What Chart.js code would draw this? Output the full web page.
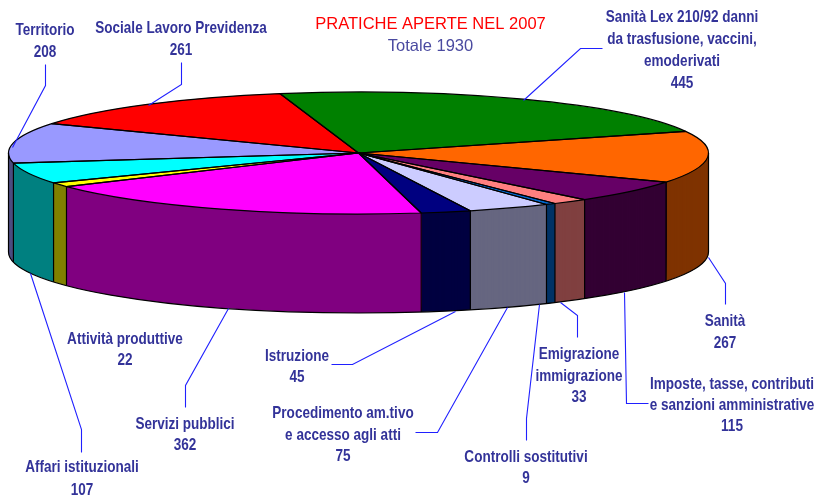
<!DOCTYPE html>
<html><head><meta charset="utf-8">
<style>html,body{margin:0;padding:0;background:#fff}canvas{display:block}</style>
<script src="https://cdn.jsdelivr.net/npm/chart.js@4"></script>
</head><body><canvas id="c" width="816" height="500"></canvas>
<script>
const categories = ["Sanità Lex 210/92 danni da trasfusione, vaccini, emoderivati","Sanità","Imposte, tasse, contributi e sanzioni amministrative","Emigrazione immigrazione","Controlli sostitutivi","Procedimento am.tivo e accesso agli atti","Istruzione","Servizi pubblici","Attività produttive","Affari istituzionali","Territorio","Sociale Lavoro Previdenza"];
const values = [445,267,115,33,9,75,45,362,22,107,208,261];
const faceColors = ["#008000","#FF6600","#660066","#FF8080","#0066CC","#CCCCFF","#000080","#FF00FF","#FFFF00","#00FFFF","#9999FF","#FF0000"];
const wallColors = ["#004000","#7F3300","#330033","#804040","#003366","#666680","#000040","#800080","#808000","#008080","#4D4D80","#800000"];
const titleText = "PRATICHE APERTE NEL 2007";
const subtitleText = "Totale 1930";

// label layout, separate from the data: wrapped lines, centre x, middle y of each line, leader polyline
const labelLayout = [
 {lines:["Sanità Lex 210/92 danni","da trasfusione, vaccini,","emoderivati"],x:682,y:[16,38,60,82],leader:[[602,48],[580,48],[523,100]]},
 {lines:["Sanità"],x:725,y:[320,342],leader:[[725,304],[725,283],[708,257]]},
 {lines:["Imposte, tasse, contributi","e sanzioni amministrative"],x:732,y:[383,404,425],leader:[[648,403],[626,403],[624,292]]},
 {lines:["Emigrazione","immigrazione"],x:579,y:[353,375,396],leader:[[577,337],[577,315],[560,302]]},
 {lines:["Controlli sostitutivi"],x:526,y:[456,477],leader:[[526,440],[526,418],[539,304]]},
 {lines:["Procedimento am.tivo","e accesso agli atti"],x:343,y:[412,434,455],leader:[[415,432],[437,432],[507,307]]},
 {lines:["Istruzione"],x:297,y:[355,376],leader:[[331,364],[352,364],[455,311]]},
 {lines:["Servizi pubblici"],x:185,y:[423,444],leader:[[185,407],[185,385],[228,308]]},
 {lines:["Attività produttive"],x:125,y:[338,359],leader:null},
 {lines:["Affari istituzionali"],x:82,y:[466,489],leader:[[81,452],[81,429],[30,273]]},
 {lines:["Territorio"],x:45,y:[29,51],leader:[[45,64],[45,85],[12,147]]},
 {lines:["Sociale Lavoro Previdenza"],x:181,y:[27,49],leader:[[181,62],[181,84],[148,105]]}
];
const face = {cx:358.5, cy:153, rx:350, ry:61, depth:99};
const INK = "#333399";
const labelFont = 'bold 16.5px "Liberation Sans",Arial,sans-serif';
const labelSqueeze = 0.82;

const pie3d = {
  id:"pie3d",
  beforeDatasetsDraw(chart){
    const ctx = chart.ctx, arcs = chart.getDatasetMeta(0).data;
    const a0 = arcs[0], sx = face.rx/a0.outerRadius, sy = face.ry/a0.outerRadius;
    const place = (dy)=>{ ctx.translate(face.cx, face.cy+dy); ctx.scale(sx,sy); ctx.translate(-a0.x,-a0.y); };
    const TAU = Math.PI*2;

    // extruded wall: each library arc, opened to a whole disc and repeated downwards in
    // its dark colour, held to the horizontal span of the front rim that it owns
    arcs.forEach((arc,i)=>{
      let s = arc.startAngle, e = arc.endAngle;
      while(s<0){s+=TAU;e+=TAU;}
      while(s>=TAU){s-=TAU;e-=TAU;}
      let a=null,b=null;
      if(s<Math.PI){a=s;b=Math.min(e,Math.PI);}
      if(e>TAU){const bb=Math.min(e-TAU,Math.PI); a=0; b=(b===null)?bb:Math.max(b,bb);}
      if(a===null) return;
      let xHi = face.cx+face.rx*Math.cos(a), xLo = face.cx+face.rx*Math.cos(b);
      if(a===0) xHi+=2;
      if(b===Math.PI) xLo-=2;
      const o = arc.options, sa=arc.startAngle, ea=arc.endAngle, ci=arc.circumference;
      arc.options = Object.assign({},o,{backgroundColor:wallColors[i],borderWidth:0});
      arc.startAngle = -Math.PI/2; arc.circumference = TAU-0.001; arc.endAngle = arc.startAngle+arc.circumference;
      ctx.save();
      ctx.beginPath(); ctx.rect(xLo,0,xHi-xLo,500); ctx.clip();
      for(let d=face.depth; d>0; d--){
        ctx.save(); place(d); arc.draw(ctx); ctx.restore();
      }
      ctx.restore();
      arc.options = o; arc.startAngle=sa; arc.endAngle=ea; arc.circumference=ci;
    });
    // top face
    ctx.save(); place(0);
    arcs.forEach(arc=>{ arc.draw(ctx); });
    ctx.restore();

    // outlines in screen space so the line keeps an even weight
    ctx.save();
    ctx.strokeStyle="#000"; ctx.lineWidth=1.2; ctx.lineJoin="round";
    arcs.forEach(arc=>{
      const s = arc.startAngle, c=Math.cos(s), n=Math.sin(s);
      if(n>0){
        const x=face.cx+face.rx*c, y=face.cy+face.ry*n;
        ctx.beginPath(); ctx.moveTo(x,y); ctx.lineTo(x,y+face.depth); ctx.stroke();
      }
    });
    ctx.beginPath();
    ctx.moveTo(face.cx-face.rx,face.cy); ctx.lineTo(face.cx-face.rx,face.cy+face.depth);
    ctx.moveTo(face.cx+face.rx,face.cy); ctx.lineTo(face.cx+face.rx,face.cy+face.depth);
    ctx.stroke();
    ctx.beginPath(); ctx.ellipse(face.cx,face.cy+face.depth,face.rx,face.ry,0,0,Math.PI); ctx.stroke();
    arcs.forEach(arc=>{
      ctx.beginPath(); ctx.moveTo(face.cx,face.cy);
      ctx.ellipse(face.cx,face.cy,face.rx,face.ry,0,arc.startAngle,arc.endAngle);
      ctx.closePath(); ctx.stroke();
    });
    ctx.restore();
    return false;
  },
  afterDraw(chart){
    const ctx = chart.ctx;
    ctx.save();
    ctx.strokeStyle="#2020ff"; ctx.lineWidth=1.1;
    labelLayout.forEach(l=>{
      if(!l.leader) return;
      ctx.beginPath();
      l.leader.forEach((p,i)=> i?ctx.lineTo(p[0]+.5,p[1]+.5):ctx.moveTo(p[0]+.5,p[1]+.5));
      ctx.stroke();
    });
    ctx.textAlign="center"; ctx.textBaseline="middle"; ctx.fillStyle=INK; ctx.font=labelFont;
    const put=(t,x,y)=>{ ctx.save(); ctx.translate(x,y+1); ctx.scale(labelSqueeze,1); ctx.fillText(t,0,0); ctx.restore(); };
    labelLayout.forEach((l,i)=>{
      l.lines.forEach((t,k)=>put(t,l.x,l.y[k]));
      put(String(values[i]),l.x,l.y[l.lines.length]);
    });
    ctx.font='16.5px "Liberation Sans",Arial,sans-serif';
    ctx.fillStyle="#FF0000"; ctx.fillText(titleText,430.5,24);
    ctx.fillStyle="#4A4AA0"; ctx.fillText(subtitleText,430.5,46);
    ctx.restore();
  }
};

new Chart(document.getElementById("c"),{
  type:"pie",
  data:{labels:categories,datasets:[{data:values,backgroundColor:faceColors,borderWidth:0}]},
  options:{
    responsive:false,animation:false,rotation:-13,
    layout:{padding:0},
    plugins:{legend:{display:false},tooltip:{enabled:false},title:{display:false}}
  },
  plugins:[pie3d]
});
</script></body></html>
